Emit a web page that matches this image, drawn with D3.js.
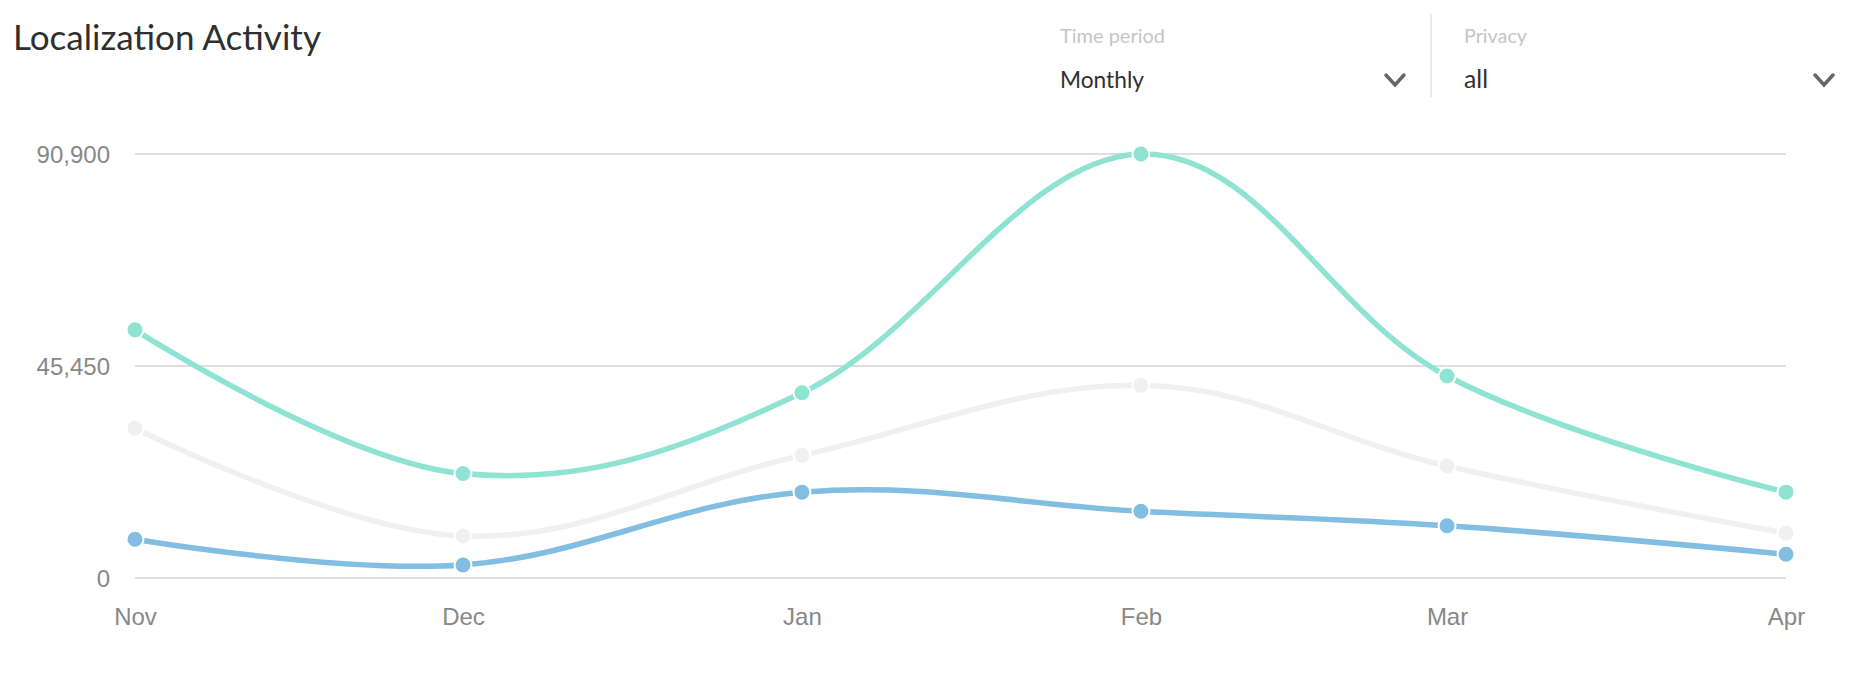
<!DOCTYPE html>
<html>
<head>
<meta charset="utf-8">
<script src="https://cdn.jsdelivr.net/npm/d3@7"></script>
<style>
  html, body { margin: 0; padding: 0; background: #fff; }
  svg { display: block; }
</style>
</head>
<body>
<svg id="chart" width="1860" height="688"></svg>
<script>
// ---- data ----
const months = ["2016-11-01", "2016-12-01", "2017-01-01", "2017-02-01", "2017-03-01", "2017-04-01"];
const seriesTeal = [53200, 22400, 39700, 90900, 43300, 18400];
const seriesGray = [32100, 9000, 26300, 41300, 24000, 9600];
const seriesBlue = [8300, 2800, 18400, 14300, 11200, 5100];
const yTickValues = [0, 45450, 90900];
const title = "Localization Activity";
const filterLabels = ["Time period", "Privacy"];
const filterValues = ["Monthly", "all"];

const parse = d3.timeParse("%Y-%m-%d");
const dates = months.map(parse);

const svg = d3.select("#chart");

const x = d3.scaleTime().domain(d3.extent(dates)).range([135, 1786]);
const y = d3.scaleLinear().domain([0, 90900]).range([578, 154]);

function fitText(sel, targetWidth) {
  const node = sel.node();
  let fs = parseFloat(sel.attr("font-size"));
  const w = node.getComputedTextLength();
  if (w > 0) sel.attr("font-size", (fs * targetWidth / w).toFixed(2));
}
// title
const t = svg.append("text").attr("x", 13).attr("y", 50)
  .attr("font-family", "Lato, 'Open Sans', sans-serif").attr("font-size", 34)
  .attr("fill", "#2f2f2f").text(title);
fitText(t, 308);

// filter controls
const ctrlX = [1060, 1464];
const chevX = [1395, 1824];
const labelW = [105, 63];
const valueW = [84, 24];
filterLabels.forEach((lab, i) => {
  const l = svg.append("text").attr("x", ctrlX[i]).attr("y", 43)
    .attr("font-family", "Lato, sans-serif").attr("font-size", 17)
    .attr("fill", "#c6c6c6").text(lab);
  fitText(l, labelW[i]);
  const v = svg.append("text").attr("x", ctrlX[i]).attr("y", 88)
    .attr("font-family", "Lato, sans-serif").attr("font-size", 21)
    .attr("fill", "#2f2f2f").text(filterValues[i]);
  fitText(v, valueW[i]);
  const cx = chevX[i], cy = 80;
  svg.append("path")
    .attr("d", `M${cx - 9},${cy - 5} L${cx},${cy + 5} L${cx + 9},${cy - 5}`)
    .attr("fill", "none").attr("stroke", "#666").attr("stroke-width", 3.5)
    .attr("stroke-linecap", "round").attr("stroke-linejoin", "miter");
});
svg.append("line").attr("x1", 1431).attr("x2", 1431).attr("y1", 14).attr("y2", 97)
  .attr("stroke", "#e2e2e2").attr("stroke-width", 1.5);

// y labels
const yAxis = svg.append("g").attr("transform", `translate(110,0)`)
  .call(d3.axisLeft(y).tickValues(yTickValues).tickFormat(d3.format(",")).tickSize(0).tickPadding(0));
yAxis.select(".domain").remove();
yAxis.selectAll("text").attr("font-family", "'Liberation Sans', Arial, sans-serif")
  .attr("font-size", 24).attr("fill", "#888").attr("dy", "0.35em");

// grid
svg.append("g").selectAll("line").data(yTickValues).join("line")
  .attr("x1", x.range()[0]).attr("x2", x.range()[1])
  .attr("y1", d => y(d)).attr("y2", d => y(d))
  .attr("stroke", "#d3d3d3").attr("stroke-width", 1.5);

// x labels
const xAxis = svg.append("g").attr("transform", `translate(0,625)`)
  .call(d3.axisBottom(x).tickValues(dates).tickFormat(d3.timeFormat("%b")).tickSize(0).tickPadding(0));
xAxis.select(".domain").remove();
xAxis.selectAll("text").attr("font-family", "'Liberation Sans', Arial, sans-serif")
  .attr("font-size", 24).attr("fill", "#888").attr("dy", 0);

// series
const series = [
  { values: seriesGray, color: "#f0f0f0" },
  { values: seriesBlue, color: "#82bde2" },
  { values: seriesTeal, color: "#8fe3d2" }
];
const line = d3.line().x(d => x(d.date)).y(d => y(d.value)).curve(d3.curveCardinal.tension(-0.1));

series.forEach(s => {
  const pts = s.values.map((v, i) => ({ date: dates[i], value: v }));
  svg.append("path").datum(pts).attr("d", line)
    .attr("fill", "none").attr("stroke", s.color).attr("stroke-width", 5.5);
  svg.append("g").selectAll("circle").data(pts).join("circle")
    .attr("cx", d => x(d.date)).attr("cy", d => y(d.value)).attr("r", 8.5)
    .attr("fill", s.color).attr("stroke", "#fff").attr("stroke-width", 2);
});
</script>
</body>
</html>
